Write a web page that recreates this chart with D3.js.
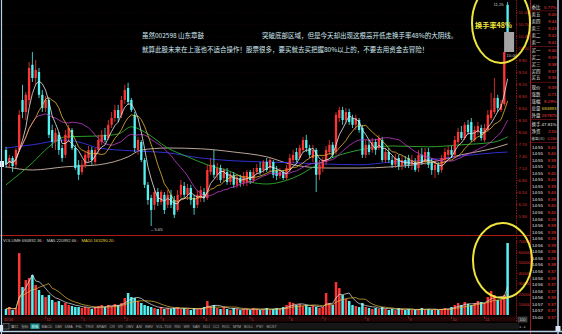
<!DOCTYPE html>
<html><head><meta charset="utf-8">
<script src="https://cdn.jsdelivr.net/npm/d3@7"></script>
<style>html,body{margin:0;padding:0;background:#000;overflow:hidden}svg{display:block}</style>
</head><body><svg id="c" width="562" height="334"></svg>
<script>
// ---------- DATA ----------
const opens = [7.55,7.23,7.35,7.18,7.55,8.80,8.50,8.80,9.68,9.35,
9.50,8.93,8.60,8.80,8.05,7.75,7.93,7.60,7.43,7.85,
8.05,7.60,7.18,7.00,7.18,7.35,7.55,7.25,7.55,7.75,
7.93,7.85,8.18,8.35,8.55,8.43,8.80,9.10,8.80,8.43,
7.55,7.75,7.30,6.68,6.35,6.18,6.50,6.25,6.43,6.18,
6.43,6.30,6.05,6.43,6.65,6.43,6.60,6.35,6.18,6.35,
6.50,6.35,7.00,7.18,6.93,7.10,6.85,7.00,6.75,6.93,
6.68,6.85,6.73,6.75,7.00,6.80,7.00,7.10,7.05,7.25,
7.10,7.25,7.05,6.90,7.00,6.85,7.05,7.30,7.50,7.35,
7.55,7.80,7.60,7.35,7.55,6.93,7.10,7.25,7.50,7.68,
7.50,8.35,8.55,8.30,8.50,8.35,8.18,8.30,8.10,7.43,
7.68,7.55,7.75,7.60,7.80,7.30,7.50,7.30,7.18,7.35,
7.15,7.30,7.35,7.18,7.25,7.10,7.43,7.25,7.50,7.25,
7.05,7.18,7.05,7.30,7.43,7.55,7.43,7.75,8.00,7.85,
8.18,8.25,7.80,8.00,8.10,7.80,8.05,8.35,8.50,8.85,
8.55,8.70,11.18];
const highs = [7.63,7.43,7.40,7.60,8.55,9.18,9.00,9.75,10.00,9.80,
9.60,9.05,8.90,8.85,8.18,8.10,8.00,7.68,8.05,8.18,
8.10,7.68,7.30,7.30,7.50,7.65,7.63,7.60,7.93,8.05,
8.10,8.30,8.50,8.68,8.68,8.90,9.18,9.23,8.85,8.50,
7.88,7.80,7.35,6.75,6.43,6.60,6.60,6.55,6.50,6.55,
6.55,6.40,6.55,6.80,6.75,6.70,6.68,6.43,6.55,6.65,
6.60,7.18,7.35,7.55,7.23,7.18,7.10,7.10,7.00,7.00,
6.93,6.93,7.00,7.05,7.05,7.10,7.20,7.25,7.30,7.35,
7.35,7.30,7.15,7.10,7.05,7.18,7.45,7.55,7.60,7.68,
7.88,7.93,7.68,7.68,7.60,7.30,7.38,7.65,7.80,7.75,
8.50,8.63,8.63,8.60,8.58,8.43,8.43,8.35,8.18,7.80,
7.80,7.85,7.83,7.93,7.88,7.60,7.60,7.40,7.45,7.43,
7.40,7.40,7.43,7.43,7.35,7.55,7.60,7.60,7.60,7.35,
7.30,7.25,7.43,7.60,7.65,7.65,7.90,8.10,8.15,8.25,
8.30,8.35,8.15,8.25,8.18,8.20,8.55,8.98,9.35,8.93,
8.80,10.00,11.25];
const lows = [7.10,7.10,7.00,7.10,7.50,8.35,8.30,8.68,9.25,9.18,
8.85,8.50,8.50,7.85,7.60,7.55,7.43,7.25,7.35,7.75,
7.55,7.05,6.80,6.93,7.10,7.25,7.18,7.18,7.48,7.68,
7.75,7.80,8.10,8.25,8.25,8.35,8.70,8.68,8.50,7.50,
7.43,7.25,6.60,6.18,5.65,6.05,6.15,6.18,5.95,6.10,
6.10,5.85,6.00,6.35,6.35,6.30,6.18,5.93,6.10,6.25,
6.25,6.30,6.93,6.85,6.80,6.73,6.75,6.68,6.68,6.60,
6.60,6.63,6.65,6.65,6.70,6.73,6.93,6.93,6.98,7.00,
7.00,6.85,6.80,6.83,6.80,6.80,7.00,7.23,7.25,7.30,
7.50,7.50,7.35,7.25,6.50,6.80,7.00,7.18,7.43,7.35,
7.43,8.25,8.18,8.20,8.18,8.10,8.05,7.98,7.35,7.35,
7.43,7.48,7.43,7.55,7.25,7.23,7.23,7.10,7.10,7.05,
7.05,7.10,7.10,7.05,7.00,7.00,7.18,7.18,7.10,6.93,
6.85,6.93,6.98,7.23,7.35,7.35,7.35,7.68,7.80,7.80,
7.93,7.75,7.75,7.93,7.78,7.75,8.00,8.30,8.45,8.50,
8.50,8.65,10.45];
const closes = [7.18,7.35,7.15,7.55,8.43,8.50,8.93,9.60,9.35,9.55,
8.93,8.60,8.80,7.93,7.75,7.98,7.55,7.35,7.93,8.10,
7.60,7.10,6.93,7.18,7.43,7.55,7.30,7.55,7.80,7.93,
7.80,8.18,8.35,8.55,8.35,8.80,9.05,8.75,8.55,7.60,
7.80,7.30,6.68,6.30,6.05,6.50,6.25,6.50,6.05,6.43,
6.18,5.93,6.43,6.68,6.43,6.60,6.30,6.10,6.43,6.55,
6.35,7.05,7.18,6.93,7.10,6.80,7.05,6.75,6.93,6.68,
6.85,6.73,6.90,7.00,6.80,7.00,7.10,7.00,7.25,7.05,
7.30,6.93,6.90,7.00,6.85,7.10,7.35,7.43,7.30,7.60,
7.80,7.60,7.43,7.55,6.93,7.18,7.30,7.55,7.68,7.43,
8.43,8.55,8.30,8.50,8.25,8.18,8.35,8.05,7.43,7.68,
7.50,7.75,7.55,7.85,7.30,7.50,7.30,7.18,7.35,7.15,
7.30,7.18,7.18,7.30,7.05,7.43,7.25,7.50,7.18,7.05,
7.18,7.00,7.35,7.50,7.55,7.43,7.80,8.00,7.85,8.18,
8.00,7.80,8.05,8.15,7.85,8.10,8.43,8.55,8.85,8.60,
8.70,10.00,10.50];
const volumes = [57000,76000,47500,66500,589000,266000,332500,351500,380000,285000,
237500,190000,171000,190000,142500,123500,133000,95000,114000,95000,
85500,76000,76000,66500,76000,66500,57000,76000,85500,95000,
76000,95000,85500,104500,95000,114000,161500,209000,171000,161500,
133000,114000,95000,85500,76000,66500,57000,76000,57000,66500,
57000,66500,76000,57000,66500,57000,47500,66500,57000,66500,
76000,133000,85500,95000,66500,57000,76000,57000,47500,66500,
57000,47500,57000,57000,47500,66500,57000,47500,57000,66500,
47500,57000,66500,57000,76000,95000,123500,114000,95000,104500,
85500,95000,76000,85500,76000,66500,76000,209000,114000,95000,
313500,256500,190000,152000,133000,95000,85500,76000,114000,76000,
66500,57000,66500,57000,76000,57000,47500,57000,47500,66500,
57000,47500,57000,47500,47500,57000,66500,47500,57000,47500,
57000,47500,57000,66500,57000,76000,95000,114000,95000,123500,
104500,95000,114000,133000,123500,114000,171000,228000,190000,142500,
142500,190000,684892];

// long moving averages (candle index, price)
const ma30Idx = [0,8,13,18,28,34,38,42,49,55,61,69,74,79,87,97,107,117,128,138,148,152];
const ma30Val = [6.68,7.23,7.63,7.88,7.90,7.95,8.13,8.00,7.60,7.38,7.18,6.98,6.75,6.70,6.85,7.30,7.55,7.65,7.63,7.68,7.75,7.88];
const ma60Idx = [0,8,18,23,28,38,49,59,69,79,87,97,107,117,128,138,148,152];
const ma60Val = [7.60,7.68,7.80,7.73,7.60,7.53,7.48,7.35,7.28,7.25,7.23,7.20,7.18,7.25,7.30,7.40,7.48,7.50];
const ma120Idx = [0,8,18,28,37,41,49,59,69,79,87,97,107,117,128,138,148,152];
const ma120Val = [7.13,7.05,7.13,7.18,7.38,7.55,7.60,7.58,7.50,7.38,7.18,7.10,7.10,7.13,7.23,7.43,7.60,7.70];

const priceTicks = [5.9,6.2,6.5,6.8,7.1,7.4,7.7,8.0,8.3,8.6,8.9,9.2,9.5,9.8,10.1,10.4,10.7,11.0];
const volTicks = [100000,200000,300000,400000,500000,600000,700000];
const dateTickIdx = [12,23,36,47,60,74,86,96,109,122,135,145];
const dateTickLabels = ["12","1","2","3","4","5","6","7","8","9","10","11"];
const firstDateLabel = "11/16";

const noteLine1a = "虽然002598 山东章鼓";
const noteLine1b = "突破底部区域，但是今天却出现这根高开低走换手率48%的大阴线。";
const noteLine2 = "就算此股未来在上涨也不适合操作！股票很多，要买就去买把握80%以上的，不要去用资金去冒险！";
const turnoverNote = "换手率48%";

const volLegend = [["VOLUME 684892.36","#d0d0d0"],["MA5 220992.66","#d0d0d0"],["MA10 163290.20","#e8d040"]];

const bookLabels = ["委比","卖五","卖四","卖三","卖二","卖一","买一","买二","买三","买四","买五","现价","涨跌","涨幅","总量","外盘","换手","净资","收益(三)"];
const bookValues = ["5.77%","9.45","9.44","9.43","9.42","9.41","9.40","9.39","9.38","9.37","9.36","9.39","0.71","8.29%","684893","267875","47.81%","2.55","0.180"];
const tradeTimes = ["14:55","14:55","14:55","14:55","14:55","14:55","14:55","14:55","14:55","14:55","14:56","14:56","14:56","14:56","14:56","14:56","14:56","14:56","14:56","14:56","14:56","14:56","14:56","14:56","14:57","14:57","15:00"];
const tradePrices = ["9.40","9.40","9.39","9.40","9.40","9.40","9.39","9.40","9.39","9.40","9.40","9.39","9.39","9.39","9.38","9.39","9.38","9.38","9.38","9.37","9.38","9.37","9.37","9.38","9.37","9.37","9.37"];
const tabLabels = ["窗口","指标","模板","MACD","DMI","DMA","FSL","TRIX","BRAR","CR","VR","OBV","ASI","EMV","VOL-TDX","RSI","WR","SAR","KDJ","CCI","ROC","MTM","BOLL","PSY","MCST"];

// ---------- DRAW ----------
const svg = d3.select("#c");
const W = 562, H = 334;
const RED = "#ff3434", CYAN = "#55f2f2", DRED = "#8c1414";
const CJK = "'Noto Sans CJK SC','Noto Sans',sans-serif";
const LAT = "'Liberation Sans','DejaVu Sans',sans-serif";
svg.append("rect").attr("width", W).attr("height", H).attr("fill", "#000");

const N = closes.length;
const x = d3.scaleLinear().domain([0, N - 1]).range([6, 507.6]);
const y = d3.scaleLinear().domain([5.5, 11.3]).range([232, 0]);
const yv = d3.scaleLinear().domain([0, 684892]).range([315, 243]);
const isUp = i => closes[i] >= opens[i];
const col = i => isUp(i) ? RED : CYAN;
const idx = d3.range(N);

// faint grid
svg.append("g").selectAll("line").data(priceTicks).join("line")
  .attr("x1", 3).attr("x2", 516).attr("y1", d => Math.round(y(d)) + 0.5).attr("y2", d => Math.round(y(d)) + 0.5)
  .attr("stroke", "#2a0606").attr("stroke-width", 0.6).attr("stroke-dasharray", "1,2");

// panel lines
svg.append("line").attr("x1", 0).attr("x2", 530).attr("y1", 235.5).attr("y2", 235.5).attr("stroke", "#b01a1a").attr("stroke-width", 1);
svg.append("line").attr("x1", 516.5).attr("x2", 516.5).attr("y1", 0).attr("y2", 322).attr("stroke", DRED).attr("stroke-dasharray", "1.5,1");
svg.append("line").attr("x1", 530.5).attr("x2", 530.5).attr("y1", 0).attr("y2", 334).attr("stroke", "#a01818");

// volume bars
svg.append("g").selectAll("rect").data(idx).join("rect")
  .attr("x", i => x(i) - 1.25).attr("width", 2.5)
  .attr("y", i => yv(volumes[i])).attr("height", i => 315 - yv(volumes[i]))
  .attr("fill", col);

// moving averages helper
function ma(arr, n) {
  return arr.map((v, i) => { const s = arr.slice(Math.max(0, i - n + 1), i + 1); return d3.mean(s); });
}
const vline = d3.line().x((d, i) => x(i)).y(d => yv(d));
svg.append("path").attr("d", vline(ma(volumes, 5))).attr("fill", "none").attr("stroke", "#e8e8e8").attr("stroke-width", 0.7);
svg.append("path").attr("d", vline(ma(volumes, 10))).attr("fill", "none").attr("stroke", "#e2c040").attr("stroke-width", 0.7);

// long MAs (sparse readings)
const sline = d3.line().curve(d3.curveMonotoneX).x(d => x(d[0])).y(d => y(d[1]));
[[ma120Idx, ma120Val, "#cdb8aa"], [ma60Idx, ma60Val, "#3434e6"], [ma30Idx, ma30Val, "#2eb02e"]].forEach(([ii, vv, c]) => {
  svg.append("path").attr("d", sline(ii.map((k, j) => [k, vv[j]]))).attr("fill", "none").attr("stroke", c).attr("stroke-width", 0.9);
});

// candles
const cg = svg.append("g");
cg.selectAll("line").data(idx).join("line")
  .attr("x1", i => x(i)).attr("x2", i => x(i))
  .attr("y1", i => y(highs[i])).attr("y2", i => y(lows[i]))
  .attr("stroke", col).attr("stroke-width", 0.8);
cg.selectAll("rect").data(idx).join("rect")
  .attr("x", i => x(i) - 1.15).attr("width", 2.3)
  .attr("y", i => y(Math.max(opens[i], closes[i])))
  .attr("height", i => Math.max(0.8, Math.abs(y(opens[i]) - y(closes[i]))))
  .attr("fill", col);

// short MAs computed from closes
const pline = d3.line().x((d, i) => x(i)).y(d => y(d));
[[20, "#c23ccc"], [10, "#e8b83a"], [5, "#e8e8e8"]].forEach(([n, c]) => {
  svg.append("path").attr("d", pline(ma(closes, n))).attr("fill", "none").attr("stroke", c).attr("stroke-width", 0.8);
});

// selection box on last candle
const L = N - 1;
svg.append("rect").attr("x", x(L) - 3.5).attr("width", 10)
  .attr("y", y(closes[L])).attr("height", y(closes[L - 1]) - y(closes[L]))
  .attr("fill", "#a4a4a4");
svg.append("text").attr("x", x(L) - 4).attr("y", y(highs[L]) + 4).attr("text-anchor", "end")
  .attr("font-family", LAT).attr("font-size", 4.2).attr("fill", "#c8c8c8").text(d3.format(".2f")(highs[L]));
svg.append("text").attr("x", x(L) - 1).attr("y", y(closes[L - 1]) + 4.5)
  .attr("font-family", LAT).attr("font-size", 4.2).attr("fill", "#c8c8c8").text(d3.format(".2f")(closes[L - 1]));
// low marker
const lowI = d3.minIndex(lows);
svg.append("text").attr("x", x(lowI) - 1).attr("y", y(lows[lowI]) + 4.5)
  .attr("font-family", LAT).attr("font-size", 4.2).attr("fill", "#d0d0d0").text("←" + d3.format(".2f")(lows[lowI]));

// cursor tag left
svg.append("rect").attr("x", 0).attr("y", 161).attr("width", 4).attr("height", 6).attr("fill", "#e8f0f8");

// right price axis
const ax = svg.append("g").attr("transform", "translate(516,0)")
  .call(d3.axisRight(y).tickValues(priceTicks).tickFormat(d3.format(".2f")).tickSize(1.5).tickPadding(1));
ax.select(".domain").remove();
ax.selectAll("line").attr("stroke", DRED);
ax.selectAll("text").attr("fill", "#d83030").attr("font-size", 4.3).attr("font-family", LAT);
const vax = svg.append("g").attr("transform", "translate(516,0)")
  .call(d3.axisRight(yv).tickValues(volTicks).tickFormat(d => d3.format("d")(d / 10)).tickSize(1.5).tickPadding(1));
vax.select(".domain").remove();
vax.selectAll("line").attr("stroke", DRED);
vax.selectAll("text").attr("fill", "#d83030").attr("font-size", 4.3).attr("font-family", LAT);

// volume legend
let lx = 3;
volLegend.forEach(([t, c]) => {
  const tx = svg.append("text").attr("x", lx).attr("y", 241.8).attr("font-family", LAT).attr("font-size", 4.2).attr("fill", c);
  tx.append("tspan").text(t);
  tx.append("tspan").attr("fill", "#e03030").text("↑");
  lx += tx.node().getComputedTextLength() + 3;
});

// date row
svg.append("rect").attr("x", 3).attr("y", 316.5).attr("width", 513).attr("height", 5).attr("fill", "#240606");
svg.append("g").selectAll("line").data(dateTickIdx).join("line")
  .attr("x1", i => x(i)).attr("x2", i => x(i)).attr("y1", 316.5).attr("y2", 318.5).attr("stroke", "#c03030").attr("stroke-width", 0.7);
svg.append("g").selectAll("text").data(dateTickIdx).join("text")
  .attr("x", i => x(i) + 1).attr("y", 320.6).attr("font-family", LAT).attr("font-size", 3.8).attr("fill", "#b84040")
  .text((d, j) => dateTickLabels[j]);
svg.append("text").attr("x", 4).attr("y", 320.6).attr("font-family", LAT).attr("font-size", 3.8).attr("fill", "#b84040").text(firstDateLabel);

// tab bar
svg.append("rect").attr("x", 3).attr("y", 323).attr("width", 516).attr("height", 6.5).attr("fill", "#161616");
let tx0 = 11;
tabLabels.forEach((t, k) => {
  const g = svg.append("g");
  const tt = g.append("text").attr("x", tx0).attr("y", 327.8).attr("font-family", k < 3 ? CJK : LAT)
    .attr("font-size", 3.6).attr("fill", k === 2 ? "#e0ffff" : "#a8a8a8").text(t);
  const w = tt.node().getComputedTextLength();
  if (k === 2) g.insert("rect", "text").attr("x", tx0 - 1).attr("y", 323.5).attr("width", w + 2).attr("height", 5.5).attr("fill", "#138a8a");
  tx0 += w + 3;
});
svg.append("rect").attr("x", 3).attr("y", 323.5).attr("width", 6).attr("height", 5.5).attr("fill", "none").attr("stroke", "#909090").attr("stroke-width", 0.5);

// order book
const bookY = [7, 14.5, 21.5, 28.5, 35.5, 42.5, 50.5, 57.3, 64.1, 70.9, 77.7, 87, 94, 101, 108, 115, 124, 131, 138];
const bg = svg.append("g").attr("font-size", 4.4);
bookLabels.forEach((t, k) => {
  const last = k === bookLabels.length - 1;
  bg.append("text").attr("x", 531.5).attr("y", bookY[k] + 1.6).attr("font-family", CJK)
    .attr("font-size", last ? 3.5 : 4.4).attr("fill", "#e6e6e6").text(t);
  const c = k === 14 ? "#e8d040" : (k === 16 ? "#e6e6e6" : "#ff3c3c");
  bg.append("text").attr("x", 556.5).attr("y", bookY[k] + 1.6).attr("text-anchor", "end").attr("font-family", LAT)
    .attr("font-size", last ? 3.6 : 4.4).attr("fill", c).text(bookValues[k]);
});
[10.8, 46.5, 82.3, 119.5, 142.5].forEach(v => {
  svg.append("line").attr("x1", 531).attr("x2", 557).attr("y1", v).attr("y2", v).attr("stroke", "#901818").attr("stroke-width", 0.6);
});
tradeTimes.forEach((t, k) => {
  const yy = 148.5 + k * 6.55;
  bg.append("text").attr("x", 532).attr("y", yy).attr("font-family", LAT).attr("fill", "#e6e6e6").text(t);
  bg.append("text").attr("x", 556).attr("y", yy).attr("text-anchor", "end").attr("font-family", LAT).attr("fill", "#ff3c3c").text(tradePrices[k]);
});
// small box bottom of axis column
svg.append("rect").attr("x", 518).attr("y", 317).attr("width", 9).attr("height", 5).attr("fill", "#303030").attr("stroke", "#808080").attr("stroke-width", 0.4);
svg.append("text").attr("x", 522.5).attr("y", 321).attr("text-anchor", "middle").attr("font-family", LAT).attr("font-size", 3.6).attr("fill", "#d0d0d0").text("100");
svg.append("text").attr("x", 522.5).attr("y", 327.5).attr("text-anchor", "middle").attr("font-family", LAT).attr("font-size", 3.6).attr("fill", "#a0a0a0").text("◂ - ▸");

// borders
svg.append("line").attr("x1", 1.5).attr("x2", 1.5).attr("y1", 0).attr("y2", 334).attr("stroke", "#b8d0e8").attr("stroke-width", 1.2);
svg.append("line").attr("x1", 0).attr("x2", 562).attr("y1", 331.5).attr("y2", 331.5).attr("stroke", "#b8d0e8").attr("stroke-width", 1.4);
svg.append("line").attr("x1", 558).attr("x2", 558).attr("y1", 0).attr("y2", 334).attr("stroke", "#b8d0e8").attr("stroke-width", 1.4);
svg.append("rect").attr("x", 555.5).attr("y", 326).attr("width", 5).attr("height", 5).attr("fill", "#d8e8f8");
svg.append("rect").attr("x", 0).attr("y", 325).attr("width", 3).attr("height", 6).attr("fill", "#d8e8f8");

// annotation text
const nt = svg.append("g").attr("font-family", CJK).attr("font-size", 6.5).attr("fill", "#d2ebf3").attr("dominant-baseline", "central");
nt.append("text").attr("x", 142).attr("y", 34.8).text(noteLine1a);
nt.append("text").attr("x", 262).attr("y", 34.8).text(noteLine1b);
nt.append("text").attr("x", 142).attr("y", 48.5).text(noteLine2);

// yellow circles
svg.append("ellipse").attr("cx", 501).attr("cy", 23).attr("rx", 29).attr("ry", 40)
  .attr("fill", "none").attr("stroke", "#eee43c").attr("stroke-width", 2);
svg.append("ellipse").attr("cx", 502.5).attr("cy", 260.5).attr("rx", 29.5).attr("ry", 37.5)
  .attr("fill", "none").attr("stroke", "#eee43c").attr("stroke-width", 2);
svg.append("text").attr("x", 493.5).attr("y", 25).attr("text-anchor", "middle").attr("dominant-baseline", "central")
  .attr("font-family", CJK).attr("font-weight", "bold").attr("font-size", 7.2).attr("fill", "#f2e83c").text(turnoverNote);
</script></body></html>
